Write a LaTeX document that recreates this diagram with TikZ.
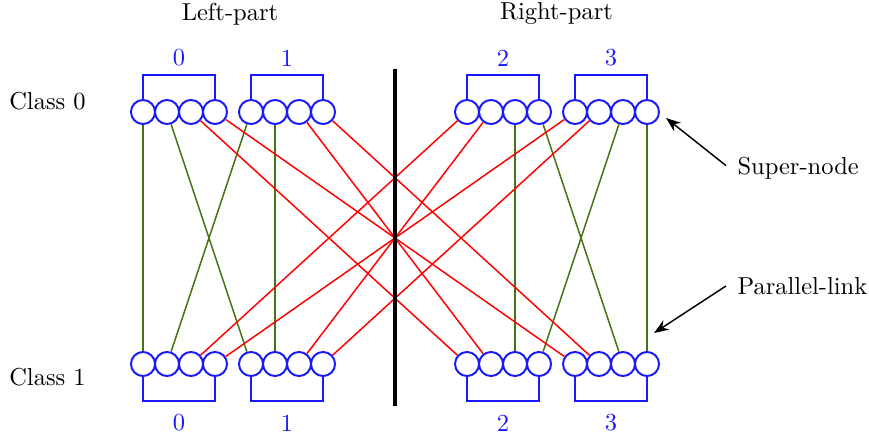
\documentclass[tikz,border=0pt]{standalone}
\usetikzlibrary{arrows.meta}
\definecolor{lnkgreen}{RGB}{70,115,20}
\definecolor{nodeblue}{RGB}{25,25,255}
\begin{document}
\begin{tikzpicture}[x=0.408pt,y=-0.408pt,
  port/.style={circle,draw=nodeblue,line width=0.8pt,minimum size=9.8pt,inner sep=0pt},
  bracket/.style={draw=nodeblue,line width=0.8pt},
  glabel/.style={text=nodeblue},
  plink/.style={draw=lnkgreen,line width=0.6pt},
  xlink/.style={draw=red,line width=0.6pt},
  divider/.style={draw=black,line width=1.6pt},
  ann/.style={-{Stealth[length=6pt,width=4.5pt]},line width=0.6pt}]
\useasboundingbox (0,0) rectangle (869,437);
% super-nodes
\foreach \g/\x in {0/143,1/251,2/467,3/575}{
  \foreach \p in {1,...,4}{
    \node[port] (t\g\p) at ({\x+24*(\p-1)},112) {};
    \node[port] (b\g\p) at ({\x+24*(\p-1)},364) {};
  }
  \draw[bracket] (t\g1.north) -- ++(0,-24) -| (t\g4.north);
  \draw[bracket] (b\g1.south) -- ++(0,24) -| (b\g4.south);
  \node[glabel] (lt\g) at ({\x+36},58) {\g};
  \node[glabel] (lb\g) at ({\x+36},423) {\g};
}
% parallel links
\draw[plink] (t01) -- (b01);
\draw[plink] (t02) -- (b11);
\draw[plink] (t11) -- (b02);
\draw[plink] (t12) -- (b12);
\draw[plink] (t23) -- (b23);
\draw[plink] (t24) -- (b33);
\draw[plink] (t33) -- (b24);
\draw[plink] (t34) -- (b34);
% cross links
\draw[xlink] (t03) -- (b21);
\draw[xlink] (t04) -- (b31);
\draw[xlink] (t13) -- (b22);
\draw[xlink] (t14) -- (b32);
\draw[xlink] (b03) -- (t21);
\draw[xlink] (b04) -- (t31);
\draw[xlink] (b13) -- (t22);
\draw[xlink] (b14) -- (t32);
% divider
\coordinate (vtop) at (394.7,69);
\coordinate (vbot) at (394.7,406);
\draw[divider] (vtop) -- (vbot);
% labels
\node (lp) at (230,14) {Left-part};
\node (rp) at (556.5,14) {Right-part};
\node (c0) at (47.5,101) {Class 0};
\node (c1) at (47.5,377) {Class 1};
\node[anchor=west,inner sep=0pt] (sn) at (737,168) {Super-node};
\node[anchor=west,inner sep=0pt] (pl) at (737,286) {Parallel-link};
\coordinate (sntip) at (666,118);
\coordinate (pltip) at (654,333);
\draw[ann] ([xshift=-4.5pt,yshift=1pt]sn.west) -- (sntip);
\draw[ann] ([xshift=-4.5pt]pl.west) -- (pltip);
\end{tikzpicture}
\end{document}
